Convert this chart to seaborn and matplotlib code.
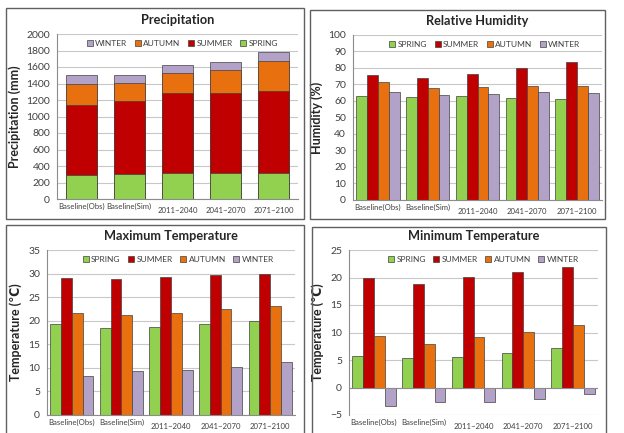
import numpy as np
import pandas as pd
import matplotlib
matplotlib.use("Agg")
import matplotlib.pyplot as plt
import matplotlib.transforms as mtransforms
from matplotlib.patches import Rectangle, Patch
import seaborn as sns

# 기간 / 계절
periods = ["Baseline(Obs)", "Baseline(Sim)", "2011~2040", "2041~2070", "2071~2100"]
seasons = ["SPRING", "SUMMER", "AUTUMN", "WINTER"]

# 강수량 (mm, 계절별 누적 막대)
precip_spring = [295, 307, 311, 311, 311]
precip_summer = [848, 877, 970, 978, 994]
precip_autumn = [251, 222, 246, 279, 368]
precip_winter = [105, 93, 93, 97, 113]

# 상대습도 (%)
hum_spring = [63.0, 62.5, 63.0, 62.0, 61.0]
hum_summer = [75.5, 73.8, 76.2, 80.0, 83.5]
hum_autumn = [71.5, 68.0, 68.5, 69.0, 69.0]
hum_winter = [65.5, 63.5, 64.0, 65.5, 65.0]

# 최고기온 (℃)
tmax_spring = [19.2, 18.5, 18.7, 19.3, 20.0]
tmax_summer = [29.1, 28.9, 29.2, 29.6, 30.0]
tmax_autumn = [21.6, 21.3, 21.6, 22.4, 23.1]
tmax_winter = [8.3, 9.3, 9.5, 10.2, 11.3]

# 최저기온 (℃)
tmin_spring = [5.8, 5.3, 5.5, 6.3, 7.1]
tmin_summer = [19.9, 18.9, 20.1, 21.0, 22.0]
tmin_autumn = [9.3, 8.0, 9.1, 10.1, 11.4]
tmin_winter = [-3.4, -2.6, -2.6, -2.0, -1.2]

colors = {"SPRING": "#92D050", "SUMMER": "#C00000", "AUTUMN": "#E8700F", "WINTER": "#B3A2C7"}
EDGE = "#404040"
GRID = "#C8C8C8"
AXC = "#8C8C8C"
TXT = "#404040"

sns.set_style("white")
plt.rcParams["font.family"] = ["Lato", "DejaVu Sans"]

W, H = 624, 433
fig = plt.figure(figsize=(W / 100, H / 100), dpi=100)


def px_axes(l, r, t, b):
    return fig.add_axes([l / W, 1 - b / H, (r - l) / W, (b - t) / H])


def px_box(l, r, t, b):
    fig.patches.append(Rectangle((l / W, 1 - b / H), (r - l) / W, (b - t) / H,
                                 transform=fig.transFigure, fill=False,
                                 edgecolor="#606060", linewidth=1.0))


def style_axes(ax, title, ylabel, ylim, ystep):
    ax.set_ylim(*ylim)
    ax.set_xlim(-0.5, len(periods) - 0.5)
    ax.set_yticks(np.arange(ylim[0], ylim[1] + 0.01, ystep))
    ax.yaxis.grid(True, color=GRID, linewidth=0.8)
    ax.set_axisbelow(True)
    for s in ["top", "right"]:
        ax.spines[s].set_visible(False)
    ax.spines["left"].set_color(AXC)
    ax.spines["bottom"].set_color(AXC)
    ax.tick_params(axis="y", labelsize=7.5, colors=TXT, length=3, color=AXC, pad=2)
    ax.tick_params(axis="x", labelsize=5.6, colors=TXT, length=0, pad=3)
    ax.set_xticks(range(len(periods)))
    ax.set_xticklabels(periods)
    ax.set_xticks(np.arange(-0.5, len(periods)), minor=True)
    ax.tick_params(axis="x", which="minor", length=3, color=AXC)
    ax.set_xlabel("")
    ax.set_ylabel(ylabel, fontsize=9, fontweight="bold", labelpad=4)
    ax.set_title(title, fontsize=9.2, fontweight="bold", pad=7)
    # 뒤쪽 세 라벨은 약간 아래로
    off = mtransforms.ScaledTranslation(0, -3 / 72, fig.dpi_scale_trans)
    for lab in ax.get_xticklabels()[2:]:
        lab.set_transform(lab.get_transform() + off)


def grouped(ax, sp, su, au, wi):
    df = pd.DataFrame({"period": periods, "SPRING": sp, "SUMMER": su,
                       "AUTUMN": au, "WINTER": wi})
    long = df.melt(id_vars="period", var_name="season", value_name="value")
    sns.barplot(data=long, x="period", y="value", hue="season", hue_order=seasons,
                order=periods, palette=colors, saturation=1, width=0.87, gap=0,
                edgecolor=EDGE, linewidth=0.5, ax=ax, legend=False)


def season_legend(ax, order, anchor_x):
    handles = [Patch(facecolor=colors[s], edgecolor=EDGE, linewidth=0.5, label=s) for s in order]
    ax.legend(handles=handles, loc="upper center", bbox_to_anchor=(anchor_x, 1.0),
              ncol=4, frameon=False, fontsize=6, labelcolor=TXT,
              handlelength=0.7, handleheight=0.7, handletextpad=0.3,
              columnspacing=0.9, borderaxespad=0.3)


# 패널 테두리
px_box(6, 304, 8, 219)
px_box(310, 605, 10, 219)
px_box(6, 304, 225, 440)
px_box(312, 606, 227, 440)

# 1) Precipitation - 누적 막대
ax1 = px_axes(57, 298, 34, 199)
c1 = np.array(precip_spring)
c2 = c1 + np.array(precip_summer)
c3 = c2 + np.array(precip_autumn)
c4 = c3 + np.array(precip_winter)
for vals, s in [(c4, "WINTER"), (c3, "AUTUMN"), (c2, "SUMMER"), (c1, "SPRING")]:
    sns.barplot(x=periods, y=vals, order=periods, color=colors[s], saturation=1,
                width=0.64, edgecolor=EDGE, linewidth=0.5, ax=ax1)
style_axes(ax1, "Precipitation", "Precipitation (mm)", (0, 2000), 200)
season_legend(ax1, ["WINTER", "AUTUMN", "SUMMER", "SPRING"], 0.52)

# 2) Relative Humidity
ax2 = px_axes(353, 602, 35, 200)
grouped(ax2, hum_spring, hum_summer, hum_autumn, hum_winter)
style_axes(ax2, "Relative Humidity", "Humidity (%)", (0, 100), 10)
season_legend(ax2, seasons, 0.53)

# 3) Maximum Temperature
ax3 = px_axes(47, 295, 250, 415)
grouped(ax3, tmax_spring, tmax_summer, tmax_autumn, tmax_winter)
style_axes(ax3, "Maximum Temperature", "Temperature (℃)", (0, 35), 5)
season_legend(ax3, seasons, 0.53)

# 4) Minimum Temperature
ax4 = px_axes(349, 598, 250, 415)
grouped(ax4, tmin_spring, tmin_summer, tmin_autumn, tmin_winter)
style_axes(ax4, "Minimum Temperature", "Temperature (℃)", (-5, 25), 5)
ax4.spines["bottom"].set_visible(False)
ax4.tick_params(axis="x", which="minor", length=0)
ax4.axhline(0, color=AXC, linewidth=0.8, zorder=3)
season_legend(ax4, seasons, 0.54)

fig.savefig("out.png", dpi=100)
